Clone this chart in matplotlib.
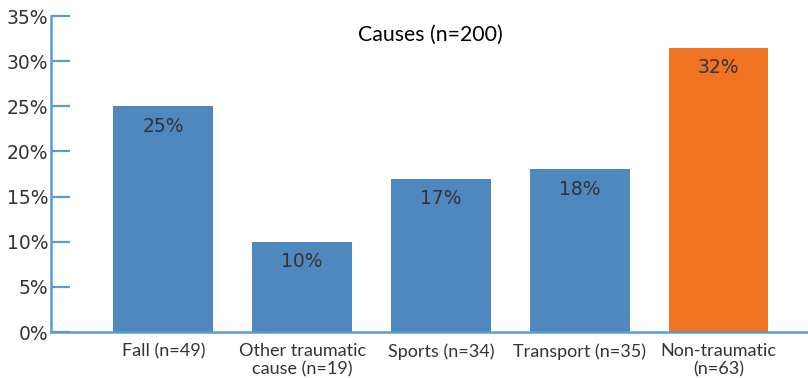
import matplotlib
matplotlib.use("Agg")
import matplotlib.pyplot as plt

categories = ["Fall (n=49)", "Other traumatic\ncause (n=19)", "Sports (n=34)", "Transport (n=35)", "Non-traumatic\n(n=63)"]
values = [25, 10, 17, 18, 31.5]
labels = ["25%", "10%", "17%", "18%", "32%"]
yticks = [0, 5, 10, 15, 20, 25, 30, 35]
ytick_labels = ["0%", "5%", "10%", "15%", "20%", "25%", "30%", "35%"]
title = "Causes (n=200)"

blue = "#4F88BF"
orange = "#F07223"
axis_col = "#5B9BD5"
txt = "#333333"

fig = plt.figure(figsize=(8.08, 3.78), dpi=100)
ax = fig.add_axes([51/808, 1-332/378, 1-51/808, (332-16)/378])

colors = [blue]*4 + [orange]
x = list(range(len(categories)))
bars = ax.bar(x, values, width=0.72, color=colors, zorder=2)
for xi, v, lab in zip(x, values, labels):
    ax.text(xi, v - 2.2, lab, ha="center", va="center", fontsize=13.5, color=txt, family="DejaVu Sans")

ax.set_xlim(-0.81, 4.645)
ax.set_ylim(0, 35)
ax.set_yticks(yticks)
ax.set_yticklabels(ytick_labels, fontsize=13.5, color=txt, family="DejaVu Sans")
ax.tick_params(axis="y", direction="in", length=14, width=1.6, color=axis_col, pad=2)
ax.set_xticks(x)
ax.set_xticklabels(categories, fontsize=13, color=txt, family="Lato", linespacing=1.15)
ax.tick_params(axis="x", length=0, pad=8)

for s in ["top", "right"]:
    ax.spines[s].set_visible(False)
for s in ["left", "bottom"]:
    ax.spines[s].set_color(axis_col)
    ax.spines[s].set_linewidth(1.8)

fig.text(430/808, 1-35/378, title, ha="center", va="center", fontsize=15.3, family="Lato", color="black")

fig.savefig("out.png", dpi=100)
